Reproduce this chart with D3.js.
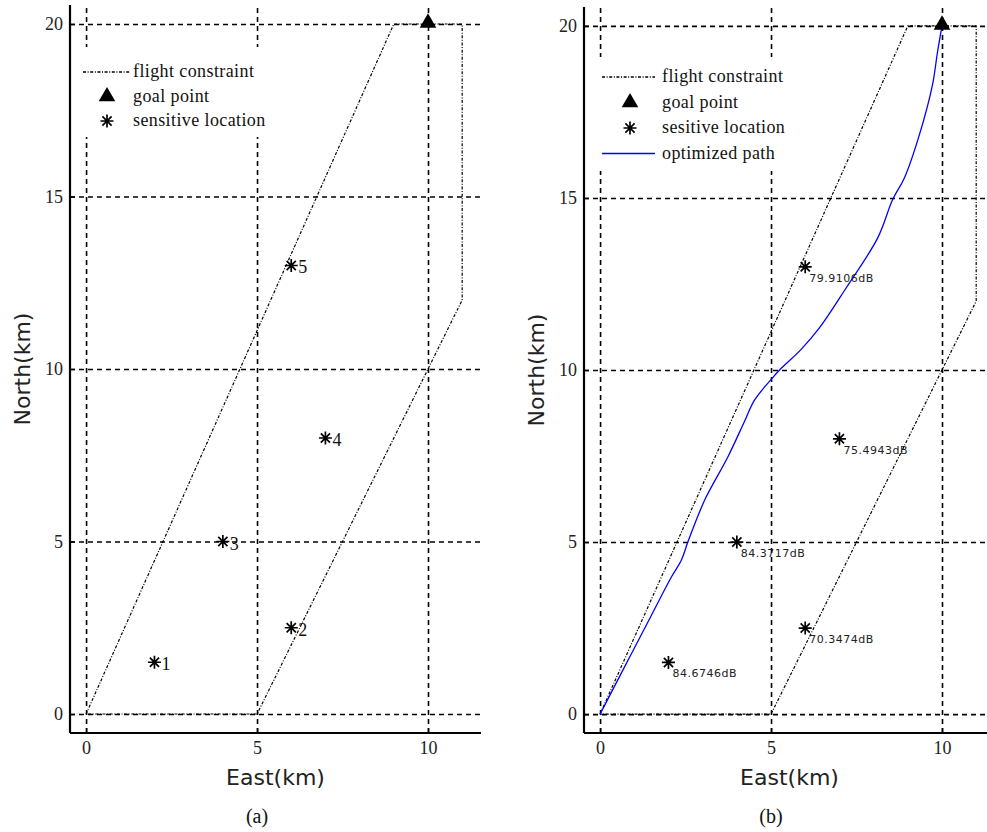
<!DOCTYPE html>
<html>
<head>
<meta charset="utf-8">
<script src="https://cdn.jsdelivr.net/npm/d3@7"></script>
<style>
  body { margin: 0; background: #fff; }
  svg { display: block; }
</style>
</head>
<body>
<div id="chart"></div>
<script>
// 1. DATA
const eastTicks = [0, 5, 10];
const northTicks = [0, 5, 10, 15, 20];

// flight constraint polygon (km)
const constraintEast = [0, 9, 11, 11, 5, 0];
const constraintNorth = [0, 20, 20, 12, 0, 0];

// sensitive locations
const siteEast = [2, 6, 4, 7, 6];
const siteNorth = [1.5, 2.5, 5, 8, 13];
const siteIds = ["1", "2", "3", "4", "5"];
const siteNoise = ["84.6746dB", "70.3474dB", "84.3717dB", "75.4943dB", "79.9106dB"];

const goalEast = 10;
const goalNorth = 20;

// optimized path
const pathEast = [0, 0.47, 0.92, 1.48, 2.09, 2.38, 2.56, 3.06, 3.74, 4.23, 4.52, 5.05, 5.25, 5.88, 6.42, 7.2, 8.12, 8.56, 8.9, 9.34, 9.72, 9.87, 10];
const pathNorth = [0, 0.9, 1.76, 2.83, 3.99, 4.48, 4.98, 6.22, 7.48, 8.52, 9.13, 9.78, 10.0, 10.6, 11.23, 12.39, 13.84, 14.96, 15.58, 16.84, 18.28, 19.25, 20];

const legendA = ["flight constraint", "goal point", "sensitive location"];
const legendB = ["flight constraint", "goal point", "sesitive location", "optimized path"];

// 2. SETUP
const width = 987;
const height = 832;
const serif = "'Liberation Serif', 'Times New Roman', serif";
const sans = "'DejaVu Sans', Verdana, sans-serif";
const dashDot = "3,1.6,1,1.6";

const svg = d3.select("#chart")
    .append("svg")
    .attr("width", width)
    .attr("height", height)
    .attr("viewBox", [0, 0, width, height]);

const panels = [
    { left: 70, right: 481, top: 5, bottom: 733, caption: "(a)", labels: "ids", legend: legendA,
      legendBox: { x: 72, y: 47, w: 205, h: 90 }, legendRow0: 72, legendStep: 24.5, lineX: [83, 130], symX: 107, textX: 133 },
    { left: 584, right: 995, top: 7, bottom: 733, caption: "(b)", labels: "noise", legend: legendB,
      legendBox: { x: 586, y: 57, w: 215, h: 114 }, legendRow0: 77, legendStep: 25.5, lineX: [602, 655], symX: 630, textX: 662 }
];

const asteriskPath = r => {
    const d = r * Math.SQRT1_2;
    return `M${-r},0H${r}M0,${-r}V${r}M${-d},${-d}L${d},${d}M${-d},${d}L${d},${-d}`;
};
const triangle = d3.symbol(d3.symbolTriangle, 120);

panels.forEach(p => {
    const x = d3.scaleLinear().domain([-0.47, 11.55]).range([p.left, p.right]);
    const y = d3.scaleLinear().domain([-0.55, 20.55]).range([p.bottom, p.top]);

    const g = svg.append("g");

    // --- GRID ---
    g.append("g")
        .attr("transform", `translate(0,${p.bottom})`)
        .call(d3.axisBottom(x).tickValues(eastTicks).tickSize(-(p.bottom - p.top)).tickFormat(""))
        .call(a => a.select(".domain").remove())
        .selectAll("line")
        .attr("stroke", "#000")
        .attr("stroke-width", 1.6)
        .attr("stroke-dasharray", "5,4");

    g.append("g")
        .attr("transform", `translate(${p.left},0)`)
        .call(d3.axisLeft(y).tickValues(northTicks).tickSize(-(p.right - p.left)).tickFormat(""))
        .call(a => a.select(".domain").remove())
        .selectAll("line")
        .attr("stroke", "#000")
        .attr("stroke-width", 1.6)
        .attr("stroke-dasharray", "5,4");

    // --- FLIGHT CONSTRAINT ---
    const line = d3.line().x(i => x(constraintEast[i])).y(i => y(constraintNorth[i]));
    g.append("path")
        .attr("d", line(d3.range(constraintEast.length)))
        .attr("fill", "none")
        .attr("stroke", "#000")
        .attr("stroke-width", 1.2)
        .attr("stroke-dasharray", dashDot);

    // --- OPTIMIZED PATH (b only) ---
    if (p.labels === "noise") {
        const pl = d3.line()
            .x(i => x(pathEast[i]))
            .y(i => y(pathNorth[i]))
            .curve(d3.curveCatmullRom.alpha(0.5));
        g.append("path")
            .attr("d", pl(d3.range(pathEast.length)))
            .attr("fill", "none")
            .attr("stroke", "#0000ff")
            .attr("stroke-width", 1.3);
    }

    // --- SENSITIVE LOCATIONS ---
    siteEast.forEach((e, i) => {
        const cx = x(e), cy = y(siteNorth[i]);
        g.append("path")
            .attr("transform", `translate(${cx},${cy})`)
            .attr("d", asteriskPath(6.5))
            .attr("stroke", "#000")
            .attr("stroke-width", 1.7)
            .attr("fill", "none");
        if (p.labels === "ids") {
            g.append("text")
                .attr("x", cx + 7)
                .attr("y", cy + 8)
                .attr("font-family", serif)
                .attr("font-size", 18)
                .attr("fill", "#111")
                .text(siteIds[i]);
        } else {
            g.append("text")
                .attr("x", cx + 4)
                .attr("y", cy + 15)
                .attr("font-family", sans)
                .attr("font-size", 11)
                .attr("letter-spacing", 0.5)
                .attr("fill", "#222")
                .text(siteNoise[i]);
        }
    });

    // --- GOAL ---
    g.append("path")
        .attr("transform", `translate(${x(goalEast)},${y(goalNorth) - 1})`)
        .attr("d", triangle())
        .attr("fill", "#000");

    // --- LEGEND ---
    const lb = p.legendBox;
    const leg = g.append("g");
    leg.append("rect")
        .attr("x", lb.x).attr("y", lb.y)
        .attr("width", lb.w).attr("height", lb.h)
        .attr("fill", "#fff");

    p.legend.forEach((name, i) => {
        const ly = p.legendRow0 + i * p.legendStep;
        if (i === 0) {
            leg.append("line")
                .attr("x1", p.lineX[0]).attr("x2", p.lineX[1])
                .attr("y1", ly).attr("y2", ly)
                .attr("stroke", "#000")
                .attr("stroke-width", 1.3)
                .attr("stroke-dasharray", dashDot);
        } else if (i === 1) {
            leg.append("path")
                .attr("transform", `translate(${p.symX},${ly})`)
                .attr("d", triangle())
                .attr("fill", "#000");
        } else if (i === 2) {
            leg.append("path")
                .attr("transform", `translate(${p.symX},${ly})`)
                .attr("d", asteriskPath(6.5))
                .attr("stroke", "#000")
                .attr("stroke-width", 1.7)
                .attr("fill", "none");
        } else {
            leg.append("line")
                .attr("x1", p.lineX[0]).attr("x2", p.lineX[1])
                .attr("y1", ly).attr("y2", ly)
                .attr("stroke", "#0000ff")
                .attr("stroke-width", 1.4);
        }
        leg.append("text")
            .attr("x", p.textX)
            .attr("y", ly + 5)
            .attr("font-family", serif)
            .attr("font-size", 18)
            .attr("letter-spacing", 0.4)
            .attr("fill", "#111")
            .text(name);
    });

    // --- AXES ---
    g.append("g")
        .attr("transform", `translate(${p.left},0)`)
        .call(d3.axisLeft(y).tickValues(northTicks).tickSize(-5).tickSizeOuter(0).tickPadding(7))
        .call(a => a.select(".domain").attr("stroke-width", 2.2).attr("d", `M0,${p.top}V${p.bottom}`))
        .call(a => a.selectAll("line").attr("stroke-width", 1.5))
        .call(a => a.selectAll("text").attr("font-family", serif).attr("font-size", 18).attr("fill", "#222"));

    g.append("g")
        .attr("transform", `translate(0,${p.bottom})`)
        .call(d3.axisBottom(x).tickValues(eastTicks).tickSize(-5).tickSizeOuter(0).tickPadding(8))
        .call(a => a.select(".domain").attr("stroke-width", 2.2).attr("d", `M${p.left},0H${p.right}`))
        .call(a => a.selectAll("line").attr("stroke-width", 1.5))
        .call(a => a.selectAll("text").attr("font-family", serif).attr("font-size", 18).attr("fill", "#222"));

    // --- TITLES ---
    g.append("text")
        .attr("x", (p.left + p.right) / 2)
        .attr("y", 785)
        .attr("text-anchor", "middle")
        .attr("font-family", sans)
        .attr("font-size", 22)
        .attr("fill", "#222")
        .text("East(km)");

    g.append("text")
        .attr("transform", `translate(${p.left - 40},${(p.top + p.bottom) / 2}) rotate(-90)`)
        .attr("text-anchor", "middle")
        .attr("font-family", sans)
        .attr("font-size", 22)
        .attr("fill", "#222")
        .text("North(km)");

    g.append("text")
        .attr("x", x(5))
        .attr("y", 823)
        .attr("text-anchor", "middle")
        .attr("font-family", serif)
        .attr("font-size", 20)
        .attr("fill", "#111")
        .text(p.caption);
});
</script>
</body>
</html>
